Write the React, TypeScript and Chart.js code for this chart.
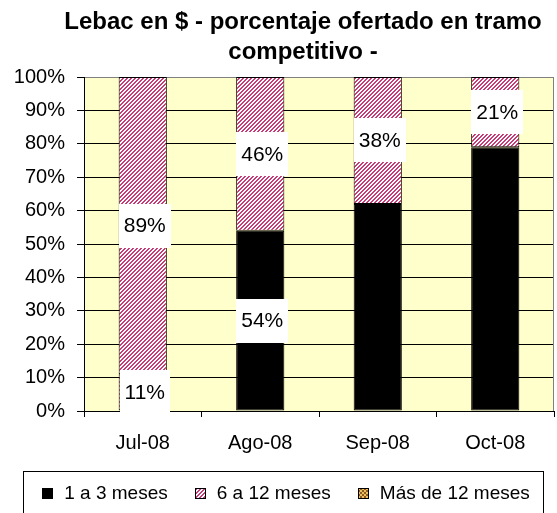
import { useEffect, useRef } from 'react';
import { Chart, registerables } from 'chart.js';

Chart.register(...registerables);

const titleLines = ['Lebac en $ - porcentaje ofertado en tramo', 'competitivo -'];
const categories = ['Jul-08', 'Ago-08', 'Sep-08', 'Oct-08'];
const seriesNames = ['1 a 3 meses', '6 a 12 meses', 'Más de 12 meses'];
const corto = [11, 54, 62, 79];
const medio = [89, 46, 38, 21];
const largo = [0, 0, 0, 0];
const cortoLabels = ['11%', '54%', '', ''];
const medioLabels = ['89%', '46%', '38%', '21%'];
const yMin = 0;
const yMax = 100;
const yStep = 10;
const hatchedCortoCategory = 'Jul-08';

const FONT = '"Liberation Sans", Arial, Helvetica, sans-serif';

function makePattern(ctx: CanvasRenderingContext2D, kind: 'hatch' | 'checker'): CanvasPattern | string {
  const c = document.createElement('canvas');
  c.width = 4;
  c.height = 4;
  const g = c.getContext('2d');
  if (!g) return '#888';
  if (kind === 'hatch') {
    g.fillStyle = '#ffffff';
    g.fillRect(0, 0, 4, 4);
    g.fillStyle = '#c83a78';
    for (let y = 0; y < 4; y++) for (let x = 0; x < 4; x++) if ((x + y) % 4 < 2) g.fillRect(x, y, 1, 1);
  } else {
    g.fillStyle = '#f0c060';
    g.fillRect(0, 0, 4, 4);
    g.fillStyle = '#8a5a20';
    g.fillRect(0, 0, 2, 2);
    g.fillRect(2, 2, 2, 2);
  }
  return ctx.createPattern(c, 'repeat') || '#888';
}

export default function App() {
  const ref = useRef<HTMLCanvasElement | null>(null);

  useEffect(() => {
    const canvas = ref.current;
    if (!canvas) return;
    const ctx0 = canvas.getContext('2d');
    if (!ctx0) return;
    const pink = makePattern(ctx0, 'hatch');
    const gold = makePattern(ctx0, 'checker');
    const legendFills: any[] = ['#000000', pink, gold];
    const labelSets = [cortoLabels, medioLabels];

    const bgPlugin = {
      id: 'bgPlugin',
      beforeDraw(chart: any) {
        const { ctx, chartArea: a } = chart;
        ctx.save();
        ctx.fillStyle = '#ffffcc';
        ctx.fillRect(a.left, a.top, a.right - a.left, a.bottom - a.top);
        ctx.restore();
      },
      afterDatasetsDraw(chart: any) {
        const { ctx, chartArea: a } = chart;
        ctx.save();
        ctx.strokeStyle = '#808080';
        ctx.lineWidth = 1;
        ctx.beginPath();
        ctx.moveTo(Math.round(a.right) - 0.5, a.top);
        ctx.lineTo(Math.round(a.right) - 0.5, a.bottom);
        ctx.stroke();
        ctx.restore();
      },
    };

    const overlayPlugin = {
      id: 'overlayPlugin',
      afterDraw(chart: any) {
        const { ctx } = chart;
        ctx.save();
        // data labels
        ctx.font = `21px ${FONT}`;
        ctx.textAlign = 'center';
        ctx.textBaseline = 'middle';
        labelSets.forEach((labels, di) => {
          const meta = chart.getDatasetMeta(di);
          meta.data.forEach((el: any, i: number) => {
            const txt = labels[i];
            if (!txt) return;
            const cy = (el.y + el.base) / 2;
            const w = ctx.measureText(txt).width + 10;
            const h = 44;
            ctx.fillStyle = '#ffffff';
            ctx.fillRect(Math.round(el.x - w / 2 + 2), Math.round(cy - h / 2), Math.round(w), h);
            ctx.fillStyle = '#000000';
            ctx.fillText(txt, el.x + 2, cy + 1);
          });
        });
        // title
        ctx.font = `bold 24px ${FONT}`;
        ctx.fillStyle = '#000000';
        titleLines.forEach((line, i) => ctx.fillText(line, 303, 22 + i * 30.5));
        // legend
        ctx.font = `19px ${FONT}`;
        ctx.textAlign = 'left';
        const marker = 11;
        const gap = 11;
        const itemGap = 27;
        const names = chart.data.datasets.map((d: any) => d.label as string);
        const widths = names.map((n: string) => ctx.measureText(n).width);
        const total = widths.reduce((s: number, w: number) => s + w + marker + gap, 0) + itemGap * (names.length - 1);
        const boxL = 23;
        const boxR = 543;
        let x = (boxL + boxR) / 2 - total / 2 + 3;
        const cyL = 493;
        ctx.strokeStyle = '#000000';
        ctx.lineWidth = 1;
        ctx.strokeRect(boxL + 0.5, 471.5, boxR - boxL, 60);
        names.forEach((n: string, i: number) => {
          const mx = Math.round(x);
          const my = Math.round(cyL - marker / 2);
          ctx.fillStyle = legendFills[i];
          ctx.fillRect(mx, my, marker, marker);
          ctx.strokeStyle = '#000000';
          ctx.strokeRect(mx + 0.5, my + 0.5, marker - 1, marker - 1);
          ctx.fillStyle = '#000000';
          ctx.fillText(n, x + marker + gap, cyL + 1);
          x += marker + gap + widths[i] + itemGap;
        });
        ctx.restore();
      },
    };

    const chart = new Chart(canvas, {
      type: 'bar',
      data: {
        labels: categories,
        datasets: [
          {
            label: seriesNames[0],
            data: corto,
            backgroundColor: (c: any) => (categories[c.dataIndex] === hatchedCortoCategory ? pink : '#000000'),
            borderColor: '#000000',
            borderWidth: 1,
          },
          {
            label: seriesNames[1],
            data: medio,
            backgroundColor: pink as any,
            borderColor: '#000000',
            borderWidth: 1,
          },
          {
            label: seriesNames[2],
            data: largo,
            backgroundColor: gold as any,
            borderColor: '#000000',
            borderWidth: 1,
          },
        ],
      },
      options: {
        animation: false,
        responsive: false,
        devicePixelRatio: 1,
        datasets: { bar: { categoryPercentage: 1, barPercentage: 0.41, borderSkipped: false } },
        layout: { padding: { top: 77, right: 3, left: 0, bottom: 0 } },
        plugins: { legend: { display: false }, title: { display: false }, tooltip: { enabled: false } },
        scales: {
          x: {
            stacked: true,
            grid: { offset: true, drawOnChartArea: false, drawTicks: true, tickLength: 6, color: '#000000' },
            border: { display: true, color: '#000000', width: 1 },
            ticks: { color: '#000000', font: { family: FONT, size: 20 }, padding: 14 },
            afterFit: (s: any) => {
              s.height = 102;
            },
          },
          y: {
            stacked: true,
            min: yMin,
            max: yMax,
            ticks: {
              stepSize: yStep,
              color: '#000000',
              font: { family: FONT, size: 20 },
              padding: 12,
              callback: (v: any) => `${v}%`,
            },
            grid: {
              color: (c: any) => (c.tick && c.tick.value === yMax ? '#808080' : '#000000'),
              tickColor: '#000000',
              tickLength: 7,
              lineWidth: 1,
            },
            border: { display: true, color: '#000000', width: 1 },
            afterFit: (s: any) => {
              s.width = 84;
            },
          },
        },
      },
      plugins: [bgPlugin, overlayPlugin],
    } as any);

    return () => chart.destroy();
  }, []);

  return (
    <div style={{ position: 'fixed', left: 0, top: 0, width: 557, height: 513, background: '#ffffff' }}>
      <canvas ref={ref} width={557} height={513} style={{ display: 'block' }} />
    </div>
  );
}
